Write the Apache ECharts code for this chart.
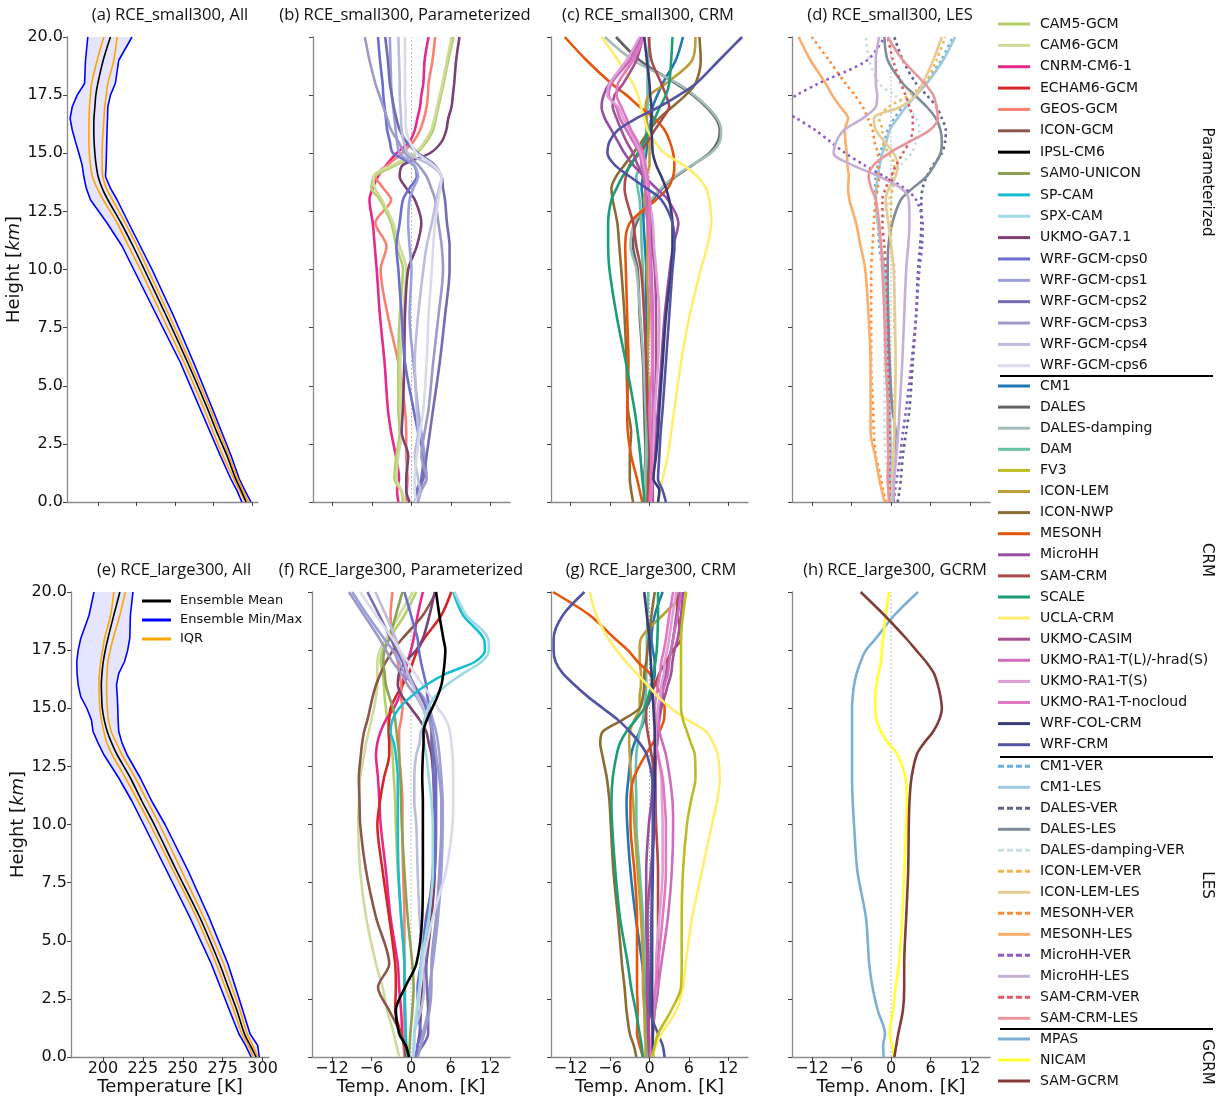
<!DOCTYPE html>
<html><head><meta charset="utf-8">
<script src="https://cdn.jsdelivr.net/npm/echarts@6/dist/echarts.min.js"></script>
<style>html,body{margin:0;padding:0;background:#fff}#c{width:1219px;height:1097px}</style>
</head><body><div id="c"></div>
<script>
// ---------- DATA ----------
const H = [0, 0.5, 1, 2, 3, 4, 6, 8, 10, 11, 12, 13, 13.5, 14, 14.5, 15, 15.5, 16, 16.5, 17, 17.5, 18, 19, 20];
const T_TICKS = [200, 225, 250, 275, 300];
const A_TICKS = [-12, -6, 0, 6, 12];

// (a) RCE_small300, All
const A_MEAN = [296.3, 293.0, 289.5, 283.8, 277.3, 271.3, 258.3, 244.5, 230.2, 222.9, 215.1, 206.5, 202.8, 200.2, 198.9, 198.1, 197.6, 197.4, 197.5, 198.1, 198.7, 200.0, 203.5, 208.2];
const A_MIN  = [293.5, 290.3, 286.3, 279.5, 273.0, 266.5, 253.6, 238.4, 223.3, 215.8, 206.0, 195.2, 192.5, 190.9, 189.8, 187.7, 185.5, 183.4, 182.0, 183.4, 186.6, 191.4, 192.0, 193.5];
const A_MAX  = [299.4, 295.5, 291.8, 286.5, 280.5, 274.5, 262.2, 249.2, 235.2, 227.6, 220.0, 212.5, 208.2, 205.0, 205.4, 205.6, 205.8, 206.0, 206.3, 206.5, 208.2, 211.4, 213.6, 222.2];
const A_Q1   = [295.7, 292.0, 288.3, 281.2, 275.0, 269.0, 256.0, 241.7, 227.6, 220.0, 212.5, 203.5, 199.5, 196.5, 195.2, 194.5, 194.2, 194.2, 194.3, 194.6, 195.2, 196.0, 199.6, 203.9];
const A_Q3   = [297.8, 294.3, 290.8, 285.0, 279.0, 273.0, 260.0, 246.5, 232.5, 225.5, 217.8, 209.5, 205.5, 203.2, 202.8, 202.8, 203.0, 203.5, 204.0, 204.5, 205.5, 206.5, 210.4, 212.5];

// (e) RCE_large300, All
const E_MEAN = [295.9, 292.3, 288.6, 283.9, 278.5, 273.1, 260.7, 246.2, 232.1, 224.4, 217.2, 208.9, 205.5, 202.7, 200.8, 199.6, 199.2, 199.0, 199.4, 200.2, 201.5, 203.1, 206.8, 210.6];
const E_MIN  = [292.8, 289.3, 285.1, 279.3, 273.6, 267.9, 254.5, 240.0, 225.5, 218.2, 209.9, 200.6, 197.0, 193.8, 192.8, 189.9, 186.1, 184.5, 183.8, 183.6, 184.5, 186.1, 191.3, 194.4];
const E_MAX  = [297.9, 296.9, 292.1, 287.6, 283.0, 278.3, 266.5, 253.4, 238.9, 230.6, 223.4, 215.1, 212.0, 209.9, 209.5, 209.3, 209.0, 208.5, 209.9, 213.5, 215.5, 216.8, 217.2, 218.8];
const E_Q1   = [294.2, 291.0, 287.0, 282.0, 276.5, 271.0, 258.6, 244.1, 229.6, 222.0, 214.1, 205.8, 202.5, 200.6, 199.0, 198.1, 197.7, 197.5, 197.8, 198.6, 199.8, 201.0, 204.8, 206.8];
const E_Q3   = [296.9, 293.8, 290.3, 285.9, 280.7, 275.6, 263.1, 249.3, 235.4, 227.8, 220.3, 212.0, 208.5, 205.2, 203.5, 202.7, 202.4, 202.3, 202.6, 203.1, 204.6, 206.4, 210.6, 214.0];

// (b) RCE_small300, Parameterized (temperature anomaly, K)
const B_CAM5 = [-1.3,-1.6,-2.6,-2.3,-1.8,-2.0,-2.0,-1.8,-1.3,-2.3,-3.1,-4.8,-6.1,-5.6,-2.3,0.8,2.3,3.3,3.7,4.1,4.5,4.9,5.6,6.4];
const B_CAM6 = [-1.0,-1.5,-2.3,-2.0,-1.5,-1.6,-1.7,-1.3,-0.8,-1.8,-2.8,-4.5,-5.6,-5.8,-2.8,0.5,2.0,3.0,3.5,3.9,4.3,4.7,5.4,6.1];
const B_CNRM = [-2.0,-2.2,-1.9,-2.4,-3.1,-3.6,-4.1,-4.8,-5.3,-5.6,-5.9,-6.4,-5.9,-5.1,-3.8,-2.3,-0.3,0.5,0.9,1.3,1.5,1.8,2.0,2.6];
const B_GEOS = [-0.8,-0.7,-0.6,-0.8,-0.8,-1.0,-2.0,-3.6,-4.7,-3.8,-5.5,-3.1,-4.3,-5.5,-3.6,-1.5,0.3,1.3,1.9,2.3,2.5,2.6,3.2,3.6];
const B_GA71 = [-0.3,-0.8,-0.8,-0.5,-1.5,-1.3,-1.1,-1.0,-0.5,0.8,1.5,0.5,-0.8,-1.8,-1.3,2.8,4.6,5.3,5.6,6.1,6.3,6.5,6.8,7.3];
const B_CPS0 = [0.7,0.8,1.5,1.8,1.0,0.3,-1.0,-1.5,-2.0,-2.3,-1.8,-1.3,-0.3,0.8,0.3,-2.8,-3.3,-3.7,-3.9,-4.1,-4.3,-4.4,-4.8,-5.1];
const B_CPS1 = [1.0,1.5,2.3,2.0,1.5,1.0,0.3,-0.3,0.0,-0.3,-0.5,-0.3,0.3,1.0,0.3,-1.8,-2.2,-2.4,-2.6,-2.8,-3.0,-3.1,-3.2,-3.3];
const B_CPS2 = [0.5,1.0,1.8,2.3,2.8,3.3,4.3,5.1,5.8,5.8,5.4,5.1,4.8,4.6,3.5,1.0,-0.8,-1.8,-2.3,-2.7,-3.0,-3.3,-3.6,-4.0];
const B_CPS3 = [0.8,1.3,2.3,1.5,2.0,2.6,3.3,4.1,4.8,4.6,4.1,3.6,3.0,2.3,1.0,-1.0,-2.0,-3.1,-3.7,-4.3,-4.9,-5.5,-6.4,-7.1];
const B_CPS4 = [0.5,1.3,1.0,0.5,1.0,0.8,0.5,1.0,1.8,2.3,3.1,3.8,4.2,4.6,2.8,-0.5,-1.2,-1.5,-1.6,-1.7,-1.8,-1.8,-1.9,-2.0];
const B_CPS6 = [0.7,0.5,0.5,0.8,1.3,1.8,2.3,2.6,3.1,3.3,3.6,4.1,4.4,4.6,3.3,0.8,-0.3,-0.8,-0.9,-0.9,-1.0,-1.0,-1.0,-1.0];

// (c) RCE_small300, CRM
const C_CM1 = [0,0,-0.1,-0.1,-0.2,-0.2,-0.3,-0.5,-0.5,-0.7,-0.9,-1.0,-1.2,-1.0,-0.8,-0.5,-0.3,0,0.3,0.5,1.2,2.0,4.0,5.1];
const C_DALES = [-0.8,-0.8,-0.8,-0.6,-0.7,-0.8,-1.0,-1.5,-1.8,-2.5,-2.0,0.5,2.0,4.0,6.6,9.1,10.4,10.7,10.1,8.6,6.6,4.0,-1.5,-5.1];
const C_DALESD = [-0.6,-0.6,-0.7,-0.5,-0.5,-0.6,-0.9,-1.4,-2.0,-2.9,-2.3,0.2,1.8,3.8,6.5,9.3,10.7,10.9,10.3,8.8,6.8,4.3,-2.5,-6.8];
const C_DAM = [-0.5,-0.4,-0.4,-0.3,-0.4,-0.4,-0.5,-0.8,-1.0,-1.2,-1.3,-1.5,-1.8,-2.0,-1.2,-0.8,-0.6,-0.5,-0.4,-0.3,-0.3,-0.3,-0.2,0];
const C_ICONLEM = [-0.3,-0.3,-0.2,0.2,0.1,0.1,-0.3,-0.1,-0.4,-0.3,-0.3,-0.8,-0.6,-0.5,0,0,0,-0.1,-0.5,-0.6,0,2.5,6.5,7.0];
const C_ICONNWP = [-2.5,-2.8,-3.0,-3.0,-2.8,-3.3,-3.5,-3.8,-4.3,-4.6,-4.9,-5.6,-5.8,-5.1,-3.8,-2.5,-1.2,0,1.5,3.5,5.5,7.0,7.8,7.6];
const C_MESONH = [-1.1,-1.5,-1.9,-2.8,-3.3,-3.4,-3.2,-3.4,-3.6,-3.7,-3.0,1.0,2.8,3.6,3.8,3.6,3.1,2.3,0.8,-1.5,-3.5,-5.8,-9.6,-12.9];
const C_MICROHH = [0.3,0.4,0.5,0.8,1.0,1.3,1.8,2.3,3.1,3.6,4.4,2.8,1.0,-0.8,-2.5,-3.8,-4.8,-5.8,-6.8,-7.3,-7.0,-6.1,-3.0,-1.3];
const C_SAMCRM = [-0.3,-0.2,-0.2,0,-0.1,-0.3,-0.5,-0.8,-1.3,-2.0,-2.5,-3.5,-3.8,-3.6,-3.0,-1.5,-0.3,0.8,2.0,3.0,2.5,1.8,0.3,-0.1];
const C_SCALE = [-0.8,-0.9,-1.1,-1.4,-1.8,-2.3,-3.6,-5.0,-6.1,-6.3,-6.3,-5.8,-5.0,-4.1,-2.8,-1.8,-0.8,0,0.8,1.6,2.5,3.0,3.3,3.5];
const C_UCLA = [1.3,1.6,2.0,2.8,3.3,3.8,4.8,6.1,7.8,8.8,9.4,9.1,8.6,7.3,5.1,2.3,0.8,-0.3,-0.8,-1.3,-1.8,-2.5,-4.8,-7.3];
const C_CASIM = [0.5,0.5,0.5,0.5,0.7,0.8,1.0,1.0,0.8,0.4,0.2,-0.3,-0.6,-1.0,-1.8,-2.5,-3.5,-4.3,-5.0,-5.6,-5.3,-4.0,-2.0,-1.0];
const C_RA1TL = [0,0.1,0.2,0.3,0.4,0.5,0.5,0.5,0.3,0.1,-0.3,-0.5,-0.6,-0.8,-1.2,-1.5,-2.5,-3.5,-4.5,-5.1,-6.2,-5.8,-3.0,-1.0];
const C_RA1TS = [0.2,0.3,0.4,0.5,0.7,0.8,1.3,1.5,1.0,0.7,0.5,0,-0.3,-0.5,-0.9,-1.3,-2.2,-3.0,-4.0,-4.8,-6.4,-6.1,-3.5,-1.5];
const C_RA1NC = [0.1,0.2,0.3,0.3,0.1,0,0.4,0.3,0,0,0,0,-0.1,-0.3,-0.6,-1.0,-1.8,-2.8,-3.5,-4.3,-5.0,-4.8,-2.5,-0.8];
const C_WRFCOL = [1.3,1.5,0.6,1.0,1.3,1.5,2.0,2.5,3.3,3.5,3.5,3.0,2.5,1.8,1.0,0.5,0.4,0.3,0.3,0.3,0.1,0,-0.4,-0.8];
const C_WRFCRM = [2.5,2.0,1.3,1.5,1.7,2.0,2.5,3.0,3.5,3.8,3.5,1.8,-0.5,-3.0,-5.3,-6.4,-6.1,-4.8,-2.0,1.5,4.5,7.1,10.6,14.1];

// (d) RCE_small300, LES
const D_CM1VER = [-0.1,-0.1,-0.2,-0.1,-0.2,-0.3,-0.5,-0.8,-1.3,-1.8,-2.0,-2.4,-2.4,-2.3,-2.0,-1.7,-1.0,-0.5,0.5,1.8,3.5,5.1,7.6,9.4];
const D_CM1LES = [0,0,-0.1,0,-0.1,-0.2,-0.4,-0.7,-1.0,-1.5,-2.0,-2.3,-2.2,-2.0,-1.7,-1.3,-0.7,-0.2,1.0,2.3,3.8,5.4,7.9,9.7];
const D_DALESVER = [1.0,1.3,1.5,1.8,2.3,2.8,3.3,3.8,4.1,4.4,4.6,4.6,4.8,5.4,6.4,7.7,8.2,8.3,7.7,6.9,5.4,3.8,1.8,0.5];
const D_DALESLES = [0.4,0.35,0.35,0.5,0.7,0.2,-0.2,-0.4,-0.5,-0.4,0.2,1.5,3.3,5.4,6.6,7.5,7.7,7.5,6.8,5.4,3.6,1.8,-0.5,-1.0];
const D_DALESDVER = [-0.3,-0.4,-0.5,-0.8,-1.0,-1.0,-1.0,-1.0,-1.3,-1.5,-1.3,-0.3,0.3,0.5,1.5,3.1,3.8,4.3,3.8,2.3,0.5,-1.8,-3.3,-3.8];
const D_ICONVER = [0.2,0.3,0.4,0.4,0.5,0.5,0.7,0.5,0.5,0,0,0,0.2,0.3,0.5,-0.3,-1.3,-1.3,-1.8,-0.3,2.8,5.1,6.9,8.2];
const D_ICONLES = [0.2,0.2,0.3,0.4,0.5,0.6,0.7,0.6,0.4,0.05,-0.4,-0.8,-0.3,0.7,1.0,0.4,-1.0,-2.3,-2.6,1.5,3.8,4.8,6.4,7.7];
const D_MESOVER = [-0.8,-1.2,-1.5,-2.3,-2.6,-2.7,-3.0,-3.0,-3.0,-2.8,-2.6,-2.3,-2.0,-1.8,-1.9,-2.0,-2.5,-2.8,-3.5,-4.3,-5.5,-6.9,-9.4,-12.0];
const D_MESOLES = [-1.0,-1.4,-1.8,-2.4,-3.1,-3.1,-3.1,-3.4,-3.9,-4.6,-5.3,-6.3,-6.5,-6.4,-6.6,-6.7,-6.9,-7.0,-6.5,-7.7,-8.9,-9.9,-12.2,-14.0];
const D_MHHVER = [0.4,0.6,0.9,1.4,1.8,2.3,3.1,3.8,4.3,4.7,4.8,3.8,2.0,-1.0,-4.1,-6.9,-9.2,-11.5,-14.3,-17.0,-14.3,-11.0,-3.6,-1.0];
const D_MHHLES = [0.3,0.4,0.5,0.8,1.1,1.3,1.7,2.0,2.3,2.6,2.8,2.7,1.5,-1.8,-5.9,-8.7,-8.3,-7.1,-4.3,-2.3,-2.1,-2.3,-2.3,-1.8];
const D_SAMVER = [-0.3,-0.2,-0.2,-0.2,-0.2,-0.3,-0.4,-0.5,-0.8,-1.0,-1.3,-1.3,-0.8,0,0.8,1.8,2.8,3.3,3.3,2.8,2.2,1.5,0.3,-0.5];
const D_SAMLES = [-0.3,-0.4,-0.5,-0.4,-0.5,-0.5,-0.8,-1.0,-1.3,-1.5,-1.8,-2.3,-3.0,-3.4,-2.6,-0.3,2.8,5.9,7.1,6.9,6.4,5.1,1.8,-0.5];

// (f) RCE_large300, Parameterized
const F_CAM5 = [-0.7,-0.8,-0.8,-0.9,-0.9,-1.0,-1.5,-2.0,-2.3,-2.4,-2.6,-2.8,-3.0,-3.3,-3.6,-3.8,-4.0,-4.1,-4.3,-4.6,-4.3,-3.3,-1.0,0.8];
const F_CAM6 = [-1.8,-2.2,-2.6,-3.6,-4.3,-5.3,-6.8,-7.7,-8.0,-7.9,-7.7,-7.1,-6.8,-6.4,-6.0,-5.6,-5.3,-5.1,-5.1,-5.1,-4.7,-3.8,-1.8,0.3];
const F_CNRM = [-1.0,-1.1,-1.3,-1.5,-1.8,-2.0,-3.1,-3.8,-4.6,-4.8,-5.0,-5.3,-5.1,-4.6,-3.8,-2.6,-1.8,-1.3,-1.0,-0.5,0,0.4,1.0,1.8];
const F_ECHAM = [-0.8,-1.0,-1.5,-2.4,-2.3,-2.4,-3.3,-4.3,-5.1,-4.7,-4.1,-3.3,-3.3,-3.4,-3.3,-3.1,-2.3,-1.3,-0.3,0.3,1.0,2.0,4.6,6.1];
const F_GEOS = [-1.0,-1.0,-1.0,-1.0,-1.0,-1.0,-1.0,-1.2,-1.3,-1.3,-1.5,-1.8,-1.8,-1.8,-1.5,-1.3,-1.5,-1.5,-1.8,-2.0,-2.5,-2.8,-3.1,-2.8];
const F_ICONGCM = [-0.8,-1.0,-1.5,-3.3,-5.0,-3.3,-5.3,-6.8,-7.7,-7.8,-7.9,-7.6,-7.4,-7.1,-6.6,-6.2,-5.8,-5.3,-4.6,-3.8,-2.7,-1.3,1.8,3.8];
const F_IPSL = [-0.3,-0.8,-1.8,-2.3,-0.9,0.8,1.7,1.8,1.8,1.8,1.7,1.8,1.9,1.9,2.4,3.2,4.0,4.6,4.9,5.1,5.2,4.9,4.3,3.8];
const F_SAM0 = [-0.3,-0.2,-0.1,0.2,0.4,0.2,-0.5,-1.0,-1.4,-1.5,-1.6,-1.8,-2.0,-2.2,-2.4,-2.7,-3.3,-3.8,-4.0,-4.2,-4.0,-3.3,-2.3,-1.3];
const F_SPCAM = [-0.5,-0.7,-0.8,-0.9,-1.0,-1.0,-1.5,-1.9,-2.0,-2.0,-2.0,-2.3,-2.6,-3.1,-2.8,-1.8,0,2.3,5.4,9.7,11.2,11.0,7.9,6.4];
const F_SPXCAM = [0.3,0.4,0.5,1.0,1.3,1.5,2.7,3.3,3.3,3.1,2.7,2.3,2.0,1.8,2.0,2.6,3.6,5.4,7.9,10.7,11.8,11.7,8.4,6.6];
const F_GA71 = [0.8,1.0,1.3,1.5,1.8,2.3,3.1,3.6,3.6,3.6,3.4,3.1,2.7,2.3,1.3,0,-1.3,-2.0,-1.8,-0.8,0.8,1.8,2.8,3.6];
const F_CPS0 = [0.8,1.0,1.5,1.0,1.0,1.5,2.3,3.6,3.8,3.8,3.8,3.6,3.4,3.3,3.0,2.8,2.5,2.3,1.9,1.5,1.2,1.0,0,-1.0];
const F_CPS1 = [1.0,1.5,1.8,2.6,2.8,3.3,4.1,4.6,4.8,4.8,4.6,4.3,4.1,3.8,3.3,2.8,1.8,0.3,-1.0,-1.8,-2.8,-4.1,-6.6,-8.9];
const F_CPS2 = [0.5,1.8,2.6,2.6,2.4,2.3,2.6,3.3,3.6,3.5,3.4,3.3,3.1,3.1,2.8,2.3,1.5,0.5,-0.4,-1.3,-2.2,-3.1,-4.8,-6.6];
const F_CPS3 = [1.0,1.5,2.0,2.8,3.1,3.1,3.8,4.3,4.6,4.6,4.3,3.8,3.6,3.3,2.8,1.8,0.8,-0.5,-1.5,-2.8,-3.8,-4.8,-7.1,-9.4];
const F_CPS4 = [0.3,0.5,0.5,1.5,2.0,1.8,1.3,1.0,0.8,0.5,0.5,0.8,1.3,1.5,2.3,1.8,1.0,0.3,-0.5,-1.0,-1.8,-2.3,-3.8,-5.4];
const F_CPS6 = [0.3,0.5,0.5,0.8,1.3,1.8,3.3,5.3,6.3,6.4,6.4,6.3,6.1,5.9,5.3,4.1,3.0,1.8,0.6,-0.5,-1.7,-2.8,-5.3,-7.7];

// (g) RCE_large300, CRM
const G_CM1 = [-0.3,-0.4,-0.4,-0.5,-0.8,-1.1,-2.1,-2.9,-3.4,-3.5,-3.2,-2.8,-2.3,-1.5,-0.8,-0.5,0.3,0.5,0.8,0.8,0.5,0.3,0.8,2.0];
const G_DAM = [-0.3,-0.3,-0.4,-0.5,-0.6,-0.8,-1.0,-1.5,-2.0,-2.0,-2.1,-2.0,-1.8,-1.5,-1.0,-0.8,-0.6,-0.5,-0.5,-0.4,-0.4,-0.4,-0.3,-0.2];
const G_FV3 = [0.4,0.8,1.3,3.3,4.8,4.9,4.9,5.1,5.7,6.3,7.0,6.9,6.3,5.7,5.1,4.8,4.8,4.8,4.8,4.8,4.8,4.8,5.1,5.6];
const G_ICONLEM = [-0.6,-0.6,-0.7,-0.8,-1.0,-1.0,-1.3,-1.8,-2.3,-2.5,-2.8,-3.0,-3.1,-3.0,-2.3,-1.5,-1.5,-1.3,-1.3,-1.5,-1.5,-1.3,2.0,5.6];
const G_ICONNWP = [-2.0,-2.4,-3.0,-3.5,-3.8,-4.2,-4.8,-5.5,-5.9,-6.1,-6.5,-7.2,-7.5,-7.1,-4.1,-1.5,-1.0,-0.8,-0.8,-0.5,-0.3,-0.1,0.3,0.8];
const G_MESONH = [-1.0,-1.5,-1.9,-1.8,-1.9,-1.9,-1.9,-2.3,-2.9,-2.9,-2.4,-0.6,0.5,1.5,2.2,2.3,1.9,1.0,0,-1.8,-3.3,-5.3,-9.1,-14.7];
const G_MICROHH = [0,-0.1,-0.2,-0.3,-0.4,-0.4,-0.5,-0.5,-0.1,0.3,0.5,0.8,1.0,1.0,1.3,1.5,2.0,2.0,2.5,2.8,3.3,3.6,4.1,4.6];
const G_SAMCRM = [0.3,0.4,0.5,0.8,1.3,1.3,1.3,1.3,1.0,0.9,0.8,0.3,0,-0.3,-0.5,-0.5,0,0.8,1.5,2.5,3.6,4.8,4.3,4.1];
const G_SCALE = [-1.0,-1.2,-1.5,-2.1,-2.8,-3.3,-4.5,-5.2,-5.7,-5.8,-5.6,-5.0,-4.5,-3.5,-2.1,-0.8,-0.2,0.3,0.6,0.9,1.1,1.2,1.3,1.3];
const G_UCLA = [0.5,1.0,1.8,4.1,5.1,5.5,6.5,8.0,9.5,10.3,10.7,10.4,9.7,8.6,5.8,3.3,1.3,-0.3,-2.0,-3.6,-5.0,-6.3,-8.1,-9.1];
const G_CASIM = [0,-0.1,-0.1,-0.1,-0.2,-0.2,-0.3,0.2,0.8,0.9,0.9,1.0,1.2,1.3,1.5,1.8,2.3,2.8,3.3,3.5,3.8,4.3,4.8,5.1];
const G_RA1TL = [0.4,0.5,0.5,0.8,1.3,1.8,2.8,3.4,3.6,3.5,3.1,2.5,2.0,1.5,1.4,1.3,1.8,2.3,2.8,3.0,3.3,3.6,4.3,4.8];
const G_RA1TS = [0.2,0.3,0.4,0.5,1.0,1.0,1.5,2.0,2.0,1.9,1.8,1.3,1.0,1.0,1.1,1.3,1.6,1.8,2.2,2.3,2.7,3.0,3.5,4.1];
const G_RA1NC = [0.3,0.3,0.4,0.6,0.9,1.3,2.0,2.5,2.5,2.3,2.0,1.3,0.9,0.8,0.9,0.8,1.0,1.3,1.6,1.8,2.2,2.5,3.0,3.6];
const G_WRFCOL = [0.6,0.5,0.5,0.4,0.4,0.4,0.4,0.5,0.6,0.7,0.8,0.8,0.8,0.8,0.7,0.6,0.5,0.4,0.3,0.2,0.1,0,-0.4,-0.8];
const G_WRFCRM = [2.3,2.0,1.3,0.1,0.1,0.2,0.3,0.4,0.5,0.5,0.4,-0.4,-1.5,-3.0,-4.8,-7.1,-9.4,-11.4,-13.2,-14.3,-14.6,-14.6,-13.2,-9.9];

// (h) RCE_large300, GCRM
const H_MPAS = [-1.1,-1.2,-0.9,-2.0,-2.8,-3.3,-3.8,-5.1,-5.6,-5.8,-5.9,-5.9,-5.9,-5.9,-5.9,-5.9,-5.8,-5.6,-5.2,-4.6,-3.8,-2.3,0.5,4.1];
const H_NICAM = [0.4,0.2,-0.2,0.3,0.7,1.2,1.7,2.0,2.3,2.4,2.2,1.0,-0.4,-1.5,-2.2,-2.4,-2.4,-2.2,-1.9,-1.5,-1.4,-1.2,-0.8,-0.3];
const H_SAMG = [0.5,0.8,1.1,1.8,2.0,2.0,2.3,2.6,2.7,2.8,3.1,3.9,5.0,6.4,7.3,7.7,7.5,7.1,6.5,5.3,3.8,2.3,-1.0,-4.6];

// legend groups
const PARAM_NAMES = ['CAM5-GCM','CAM6-GCM','CNRM-CM6-1','ECHAM6-GCM','GEOS-GCM','ICON-GCM','IPSL-CM6','SAM0-UNICON','SP-CAM','SPX-CAM','UKMO-GA7.1','WRF-GCM-cps0','WRF-GCM-cps1','WRF-GCM-cps2','WRF-GCM-cps3','WRF-GCM-cps4','WRF-GCM-cps6'];
const CRM_NAMES = ['CM1','DALES','DALES-damping','DAM','FV3','ICON-LEM','ICON-NWP','MESONH','MicroHH','SAM-CRM','SCALE','UCLA-CRM','UKMO-CASIM','UKMO-RA1-T(L)/-hrad(S)','UKMO-RA1-T(S)','UKMO-RA1-T-nocloud','WRF-COL-CRM','WRF-CRM'];
const LES_NAMES = ['CM1-VER','CM1-LES','DALES-VER','DALES-LES','DALES-damping-VER','ICON-LEM-VER','ICON-LEM-LES','MESONH-VER','MESONH-LES','MicroHH-VER','MicroHH-LES','SAM-CRM-VER','SAM-CRM-LES'];
const GCRM_NAMES = ['MPAS','NICAM','SAM-GCRM'];

const PANEL_B = [['CNRM-CM6-1',B_CNRM],['GEOS-GCM',B_GEOS],['CAM5-GCM',B_CAM5],['CAM6-GCM',B_CAM6],['UKMO-GA7.1',B_GA71],['WRF-GCM-cps0',B_CPS0],['WRF-GCM-cps1',B_CPS1],['WRF-GCM-cps2',B_CPS2],['WRF-GCM-cps3',B_CPS3],['WRF-GCM-cps4',B_CPS4],['WRF-GCM-cps6',B_CPS6]];
const PANEL_C = [['CM1',C_CM1],['DALES',C_DALES],['DALES-damping',C_DALESD],['DAM',C_DAM],['ICON-LEM',C_ICONLEM],['ICON-NWP',C_ICONNWP],['MESONH',C_MESONH],['MicroHH',C_MICROHH],['SAM-CRM',C_SAMCRM],['SCALE',C_SCALE],['UCLA-CRM',C_UCLA],['UKMO-CASIM',C_CASIM],['UKMO-RA1-T(L)/-hrad(S)',C_RA1TL],['UKMO-RA1-T(S)',C_RA1TS],['UKMO-RA1-T-nocloud',C_RA1NC],['WRF-COL-CRM',C_WRFCOL],['WRF-CRM',C_WRFCRM]];
const PANEL_D = [['CM1-VER',D_CM1VER],['CM1-LES',D_CM1LES],['DALES-VER',D_DALESVER],['DALES-LES',D_DALESLES],['DALES-damping-VER',D_DALESDVER],['ICON-LEM-VER',D_ICONVER],['ICON-LEM-LES',D_ICONLES],['MESONH-VER',D_MESOVER],['MESONH-LES',D_MESOLES],['MicroHH-VER',D_MHHVER],['MicroHH-LES',D_MHHLES],['SAM-CRM-VER',D_SAMVER],['SAM-CRM-LES',D_SAMLES]];
const PANEL_F = [['CAM5-GCM',F_CAM5],['CAM6-GCM',F_CAM6],['CNRM-CM6-1',F_CNRM],['ECHAM6-GCM',F_ECHAM],['GEOS-GCM',F_GEOS],['ICON-GCM',F_ICONGCM],['SAM0-UNICON',F_SAM0],['UKMO-GA7.1',F_GA71],['WRF-GCM-cps0',F_CPS0],['WRF-GCM-cps1',F_CPS1],['WRF-GCM-cps2',F_CPS2],['WRF-GCM-cps3',F_CPS3],['WRF-GCM-cps4',F_CPS4],['WRF-GCM-cps6',F_CPS6],['SP-CAM',F_SPCAM],['SPX-CAM',F_SPXCAM],['IPSL-CM6',F_IPSL]];
const PANEL_G = [['CM1',G_CM1],['DAM',G_DAM],['ICON-LEM',G_ICONLEM],['ICON-NWP',G_ICONNWP],['MESONH',G_MESONH],['MicroHH',G_MICROHH],['SAM-CRM',G_SAMCRM],['SCALE',G_SCALE],['UKMO-CASIM',G_CASIM],['UKMO-RA1-T(L)/-hrad(S)',G_RA1TL],['UKMO-RA1-T(S)',G_RA1TS],['UKMO-RA1-T-nocloud',G_RA1NC],['WRF-COL-CRM',G_WRFCOL],['WRF-CRM',G_WRFCRM],['UCLA-CRM',G_UCLA],['FV3',G_FV3]];
const PANEL_H = [['MPAS',H_MPAS],['NICAM',H_NICAM],['SAM-GCRM',H_SAMG]];

// ---------- STYLE ----------
const COLORS = {
 'CAM5-GCM':'#b5cf6b','CAM6-GCM':'#cedb9c','CNRM-CM6-1':'#e7298a','ECHAM6-GCM':'#d62728','GEOS-GCM':'#fb8072',
 'ICON-GCM':'#8c564b','IPSL-CM6':'#000000','SAM0-UNICON':'#8ca252','SP-CAM':'#17becf','SPX-CAM':'#9edae5',
 'UKMO-GA7.1':'#7b4173','WRF-GCM-cps0':'#6b6ecf','WRF-GCM-cps1':'#9c9ede','WRF-GCM-cps2':'#756bb1',
 'WRF-GCM-cps3':'#9e9ac8','WRF-GCM-cps4':'#bcbddc','WRF-GCM-cps6':'#dadaeb',
 'CM1':'#1f77b4','DALES':'#636363','DALES-damping':'#a3bcba','DAM':'#66c2a5','FV3':'#bcbd22','ICON-LEM':'#bd9e39',
 'ICON-NWP':'#8c6d31','MESONH':'#e6550d','MicroHH':'#984ea3','SAM-CRM':'#ad494a','SCALE':'#1b9e77','UCLA-CRM':'#ffed6f',
 'UKMO-CASIM':'#a55194','UKMO-RA1-T(L)/-hrad(S)':'#ce6dbd','UKMO-RA1-T(S)':'#de9ed6','UKMO-RA1-T-nocloud':'#e377c2',
 'WRF-COL-CRM':'#393b79','WRF-CRM':'#5254a3',
 'CM1-VER':'#6baed6','CM1-LES':'#9ecae1','DALES-VER':'#5c6485','DALES-LES':'#7f8c99','DALES-damping-VER':'#c9dfdf',
 'ICON-LEM-VER':'#e7ba52','ICON-LEM-LES':'#e7cb94','MESONH-VER':'#fd8d3c','MESONH-LES':'#fdae6b',
 'MicroHH-VER':'#8e5cc4','MicroHH-LES':'#c5b0d5','SAM-CRM-VER':'#de5a66','SAM-CRM-LES':'#e7969c',
 'MPAS':'#7bafd4','NICAM':'#ffff33','SAM-GCRM':'#843c39'
};
const DOTTED = new Set(['CM1-VER','DALES-VER','DALES-damping-VER','ICON-LEM-VER','MESONH-VER','MicroHH-VER','SAM-CRM-VER']);

const GRIDS = [
 {left:67, top:37, width:191, height:465},
 {left:313, top:37, width:197, height:465},
 {left:551, top:37, width:197, height:465},
 {left:792, top:37, width:198, height:465},
 {left:71, top:592, width:198, height:465},
 {left:312, top:592, width:198, height:465},
 {left:551, top:592, width:197, height:465},
 {left:792, top:592, width:198, height:465}
];
const FONT = 'DejaVu Sans';
const minus = v => (v < 0 ? '\u2212' + Math.abs(v) : String(v));

const xAxes = GRIDS.map((g, i) => {
  const temp = (i === 0 || i === 4);
  const bottom = i >= 4;
  const ticks = temp ? T_TICKS : A_TICKS;
  return {
    type:'value', gridIndex:i, min: temp ? 180 : -15, max: temp ? 304 : 15,
    axisLine:{show:true, onZero:false, lineStyle:{color:'#8a8a8a', width:1.3}},
    axisTick:{show:true, customValues:ticks, length:4, lineStyle:{color:'#444', width:1}},
    axisLabel:{show:bottom, customValues:ticks, formatter:minus, fontSize:16, color:'#111', fontFamily:FONT, margin:4},
    splitLine:{show:false},
    name: bottom ? (temp ? 'Temperature [K]' : 'Temp. Anom. [K]') : '',
    nameLocation:'middle', nameGap:19,
    nameTextStyle:{fontSize:18, color:'#111', fontFamily:FONT, verticalAlign:'top'}
  };
});
const yAxes = GRIDS.map((g, i) => {
  const lab = (i === 0 || i === 4);
  return {
    type:'value', gridIndex:i, min:0, max:20, interval:2.5,
    axisLine:{show:true, onZero:false, lineStyle:{color:'#8a8a8a', width:1.3}},
    axisTick:{show:true, length:4, lineStyle:{color:'#444', width:1}},
    axisLabel:{show:lab, formatter:v => v.toFixed(1), fontSize:16, color:'#111', fontFamily:FONT, margin:4},
    splitLine:{show:false},
    name: lab ? 'Height [{it|km}]' : '', nameLocation:'middle', nameGap: i === 0 ? 38 : 42, nameRotate:90,
    nameTextStyle:{fontSize:18, color:'#111', fontFamily:FONT, rich:{it:{fontSize:18, fontStyle:'italic', fontFamily:FONT, color:'#111'}}}
  };
});

const series = [];
function prof(vals){ return H.map((h, i) => [vals[i], h]); }
function addLine(name, vals, gi){
  const c = COLORS[name];
  series.push({
    type:'line', name, xAxisIndex:gi, yAxisIndex:gi, data:prof(vals), symbol:'none', smooth:0.3,
    lineStyle:{color:c, width:2.6, type: DOTTED.has(name) ? [2.6, 3.6] : 'solid'},
    itemStyle:{color:c}, silent:true, animation:false, clip:true, z:3
  });
}
function zeroLine(gi){
  series.push({type:'line', xAxisIndex:gi, yAxisIndex:gi, data:[[0,0],[0,20]], symbol:'none',
    lineStyle:{color:'#aaaaaa', width:0.8, type:[2,2]}, silent:true, animation:false, z:1});
}
function envelope(gi, mn, mx){
  series.push({type:'custom', xAxisIndex:gi, yAxisIndex:gi, data:[[mn[0], 0]], silent:true, animation:false, z:1, clip:true,
    renderItem:(params, api) => {
      const pts = [];
      for (let i = 0; i < H.length; i++) pts.push(api.coord([mn[i], H[i]]));
      for (let i = H.length - 1; i >= 0; i--) pts.push(api.coord([mx[i], H[i]]));
      return {type:'polygon', shape:{points:pts}, style:{fill:'rgba(40,40,255,0.12)', stroke:null}};
    }});
}
function allPanel(gi, mean, mn, mx, q1, q3){
  envelope(gi, mn, mx);
  const base = {type:'line', xAxisIndex:gi, yAxisIndex:gi, symbol:'none', silent:true, animation:false, z:3};
  series.push(Object.assign({}, base, {name:'Ensemble Min/Max', data:prof(mn), lineStyle:{color:'#0000ff', width:1.6}, itemStyle:{color:'#0000ff'}}));
  series.push(Object.assign({}, base, {name:'Ensemble Min/Max', data:prof(mx), lineStyle:{color:'#0000ff', width:1.6}, itemStyle:{color:'#0000ff'}}));
  series.push(Object.assign({}, base, {name:'IQR', data:prof(q1), smooth:0.3, lineStyle:{color:'#ffa500', width:1.6}, itemStyle:{color:'#ffa500'}}));
  series.push(Object.assign({}, base, {name:'IQR', data:prof(q3), smooth:0.3, lineStyle:{color:'#ffa500', width:1.6}, itemStyle:{color:'#ffa500'}}));
  series.push(Object.assign({}, base, {name:'Ensemble Mean', data:prof(mean), smooth:0.3, lineStyle:{color:'#000000', width:1.6}, itemStyle:{color:'#000000'}}));
}

allPanel(0, A_MEAN, A_MIN, A_MAX, A_Q1, A_Q3);
allPanel(4, E_MEAN, E_MIN, E_MAX, E_Q1, E_Q3);
[[1,PANEL_B],[2,PANEL_C],[3,PANEL_D],[5,PANEL_F],[6,PANEL_G],[7,PANEL_H]].forEach(([gi, list]) => {
  zeroLine(gi);
  list.forEach(([n, v]) => addLine(n, v, gi));
});

const SOLID_ICON = 'path://M0,0H32V3H0Z';
const DASH_ICON = 'path://M0,0H6V3H0Z M9,0H15V3H9Z M18,0H24V3H18Z M27,0H32V3H27Z';
const SOLID_ICON_S = 'path://M0,0H29V3H0Z';
function legendItems(names){ return names.map(n => ({name:n, icon: DOTTED.has(n) ? DASH_ICON : SOLID_ICON})); }
function mkLegend(names, top, gap){
  return {data:legendItems(names), orient:'vertical', left:998, top, padding:0, itemWidth:32, itemHeight:14, itemGap:gap,
    selectedMode:false, itemStyle:{borderWidth:0},
    textStyle:{fontSize:14, lineHeight:14, fontFamily:FONT, color:'#111', padding:[0,0,0,5]}};
}
const legends = [
  mkLegend(PARAM_NAMES, 17, 7.36),
  mkLegend(CRM_NAMES, 379, 7.1),
  mkLegend(LES_NAMES, 759.3, 7.0),
  mkLegend(GCRM_NAMES, 1032, 7.0),
  {data:[{name:'Ensemble Mean',icon:SOLID_ICON_S},{name:'Ensemble Min/Max',icon:SOLID_ICON_S},{name:'IQR',icon:SOLID_ICON_S}],
   orient:'vertical', left:142, top:594.5, padding:0, itemWidth:29, itemHeight:13, itemGap:6, selectedMode:false,
   itemStyle:{borderWidth:0}, textStyle:{fontSize:13, lineHeight:13, fontFamily:FONT, color:'#111', padding:[0,0,0,4]}}
];

const TITLES = [
  ['(a) RCE_small300, All', 170, 7], ['(b) RCE_small300, Parameterized', 405, 7],
  ['(c) RCE_small300, CRM', 648, 7], ['(d) RCE_small300, LES', 890, 7],
  ['(e) RCE_large300, All', 174, 562], ['(f) RCE_large300, Parameterized', 401, 562],
  ['(g) RCE_large300, CRM', 651, 562], ['(h) RCE_large300, GCRM', 895, 562]
];

const graphic = [
  {type:'line', shape:{x1:1000, y1:376, x2:1213, y2:376}, style:{stroke:'#000', lineWidth:2}},
  {type:'line', shape:{x1:1000, y1:757, x2:1213, y2:757}, style:{stroke:'#000', lineWidth:2}},
  {type:'line', shape:{x1:1000, y1:1029, x2:1213, y2:1029}, style:{stroke:'#000', lineWidth:2}},
  {type:'text', x:1207, y:182, rotation:-Math.PI/2, style:{text:'Parameterized', font:'15px "DejaVu Sans"', fill:'#111', align:'center', verticalAlign:'middle'}},
  {type:'text', x:1207, y:560, rotation:-Math.PI/2, style:{text:'CRM', font:'15px "DejaVu Sans"', fill:'#111', align:'center', verticalAlign:'middle'}},
  {type:'text', x:1207, y:885, rotation:-Math.PI/2, style:{text:'LES', font:'15px "DejaVu Sans"', fill:'#111', align:'center', verticalAlign:'middle'}},
  {type:'text', x:1207, y:1062, rotation:-Math.PI/2, style:{text:'GCRM', font:'15px "DejaVu Sans"', fill:'#111', align:'center', verticalAlign:'middle'}}
];

const chart = echarts.init(document.getElementById('c'), null, {renderer:'canvas'});
chart.setOption({
  backgroundColor:'#ffffff',
  animation:false,
  textStyle:{fontFamily:FONT},
  title: TITLES.map(([t, x, y]) => ({text:t, left:x, top:y, textAlign:'center', padding:0,
    textStyle:{fontSize:16.5, fontWeight:'normal', fontFamily:'Open Sans', color:'#111'}})),
  grid: GRIDS.map(g => Object.assign({containLabel:false}, g)),
  xAxis: xAxes, yAxis: yAxes,
  legend: legends,
  graphic: graphic,
  series: series
});
</script>
</body></html>
